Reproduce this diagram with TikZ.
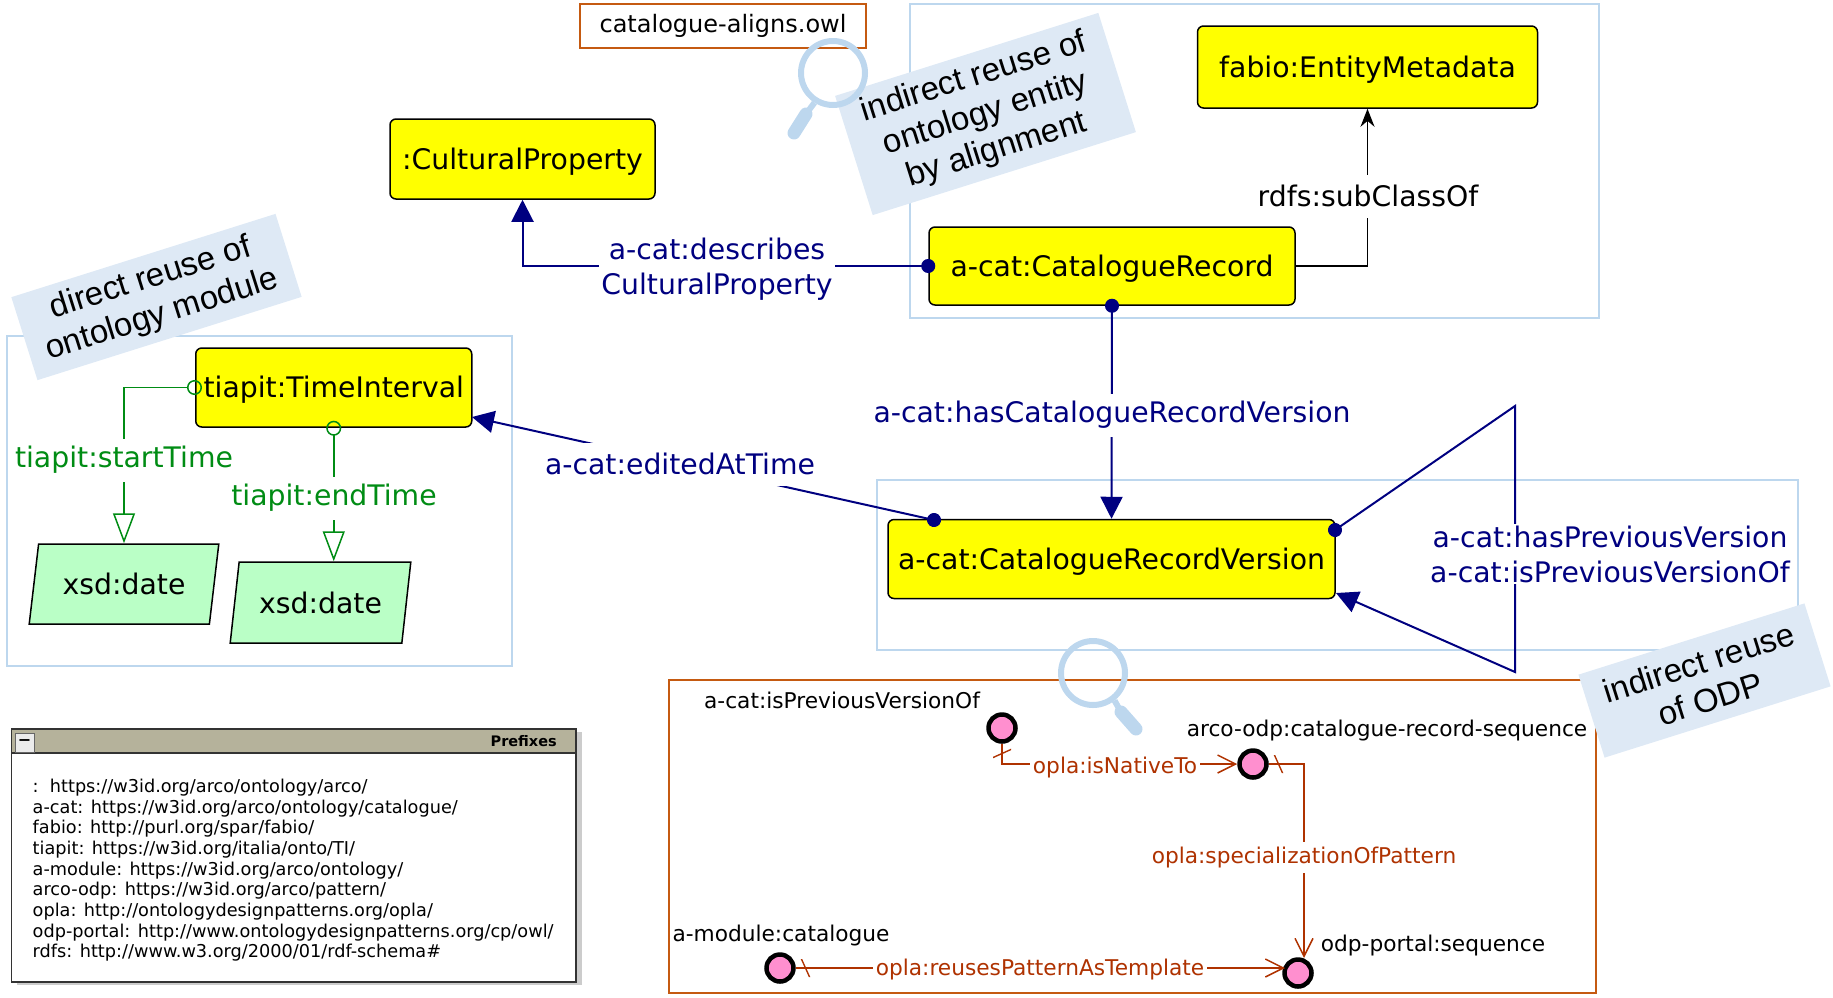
\documentclass[tikz,border=0pt]{standalone}
\usepackage{fontspec}
\setmainfont{DejaVu Sans}
\newfontfamily\notefont{Liberation Sans}
\usetikzlibrary{arrows.meta,shapes.geometric}
\definecolor{propblue}{RGB}{0,0,128}
\definecolor{dataprop}{RGB}{0,140,20}
\definecolor{oplared}{RGB}{175,50,0}
\definecolor{orangeline}{RGB}{197,90,17}
\definecolor{paleblue}{RGB}{189,215,238}
\definecolor{notefill}{RGB}{222,233,245}
\definecolor{pinkfill}{RGB}{255,143,207}
\definecolor{datafill}{RGB}{186,255,198}
\definecolor{headfill}{RGB}{181,178,155}
\definecolor{classfill}{RGB}{255,255,0}
\tikzstyle{classbox} = [rectangle, rounded corners=6pt, draw=black, line width=1.5pt, fill=classfill, text depth=1pt, font=\fontsize{28.3}{34}\selectfont]
\tikzstyle{databox} = [trapezium, trapezium left angle=76, trapezium right angle=104, trapezium stretches=true, draw=black, line width=1.5pt, fill=datafill, font=\fontsize{28.3}{34}\selectfont]
\tikzstyle{bluebox} = [rectangle, draw=paleblue, line width=2pt, inner sep=0pt]
\tikzstyle{orangebox} = [rectangle, draw=orangeline, line width=2pt, inner sep=0pt]
\tikzstyle{notebox} = [rectangle, rotate=17.5, fill=notefill, align=center, font=\notefont\fontsize{33}{38}\selectfont]
\tikzstyle{lens} = [circle, draw=paleblue, line width=6pt, minimum size=64pt, inner sep=0pt]
\tikzstyle{lensneck} = [paleblue, line width=6pt]
\tikzstyle{lenshandle} = [paleblue, line width=13pt, line cap=round]
\tikzstyle{instance} = [circle, draw=black, line width=4.5pt, fill=pinkfill, minimum size=27pt, inner sep=0pt]
\tikzstyle{instname} = [font=\fontsize{21.7}{26}\selectfont]
\tikzstyle{objprop} = [propblue, line width=2pt, {Circle[length=14pt]}-{Triangle[length=22pt,width=22pt]}, shorten <=-7pt]
\tikzstyle{dtprop} = [dataprop, line width=1.5pt, {Circle[open,length=15pt]}-{Triangle[open,length=30pt,width=22pt]}, shorten <=-7pt]
\tikzstyle{subclass} = [black, line width=1.5pt, -{Stealth[length=18pt,width=14pt]}]
\tikzstyle{oplaedge} = [oplared, line width=1.5pt, {Bar[width=18pt,slant=-.45]}-{Straight Barb[length=18pt,width=18pt]}, shorten <=9pt]
\tikzstyle{oplastub} = [oplared, line width=1.5pt]
\tikzstyle{bluelabel} = [fill=white, text=propblue, align=center, inner sep=2pt, minimum height=43pt, font=\fontsize{28.3}{35}\selectfont]
\tikzstyle{greenlabel} = [fill=white, text=dataprop, inner sep=3pt, minimum height=43pt, font=\fontsize{28.3}{34}\selectfont]
\tikzstyle{redlabel} = [fill=white, text=oplared, inner sep=3pt, minimum height=31pt, font=\fontsize{21.7}{26}\selectfont]
\begin{document}
\begin{tikzpicture}[x=1pt,y=-1pt]
		\useasboundingbox (0,0) rectangle (1833,997);

		% frames
		\node (alignframe) [bluebox, minimum width=689pt, minimum height=314pt] at (1254.5,161) {};
		\node (versionframe) [bluebox, minimum width=921pt, minimum height=170pt] at (1337.5,565) {};
		\node (moduleframe) [bluebox, minimum width=505pt, minimum height=330pt] at (259.5,501) {};
		\node (odpframe) [orangebox, minimum width=927pt, minimum height=313pt] at (1132,836.5) {};
		\node (alignfile) [orangebox, minimum width=286pt, minimum height=44pt, font=\fontsize{24}{28}\selectfont] at (723,26) {catalogue-aligns.owl};

		% classes
		\node (cultural) [classbox, minimum width=265pt, minimum height=80pt] at (522.5,159) {:CulturalProperty};
		\node (metadata) [classbox, minimum width=340pt, minimum height=82pt] at (1367.5,67) {fabio:EntityMetadata};
		\node (record) [classbox, minimum width=366pt, minimum height=78pt] at (1112,266) {a-cat:CatalogueRecord};
		\node (version) [classbox, minimum width=447pt, minimum height=79pt] at (1111.5,559) {a-cat:CatalogueRecordVersion};
		\node (interval) [classbox, minimum width=276pt, minimum height=79pt, inner sep=0pt] at (333.75,387.5) {tiapit:TimeInterval};
		\node (datea) [databox, minimum width=190pt, minimum height=80pt] at (124,584) {xsd:date};
		\node (dateb) [databox, minimum width=181pt, minimum height=81pt] at (320.5,602.5) {xsd:date};

		% free ends
		\coordinate (editstart) at (934,520);
		\coordinate (edittip) at (472,417);
		\coordinate (loopstart) at (1335,530);
		\coordinate (looptop) at (1515,406);
		\coordinate (loopbottom) at (1515,672);
		\coordinate (looptip) at (1336,593);
		\coordinate (seqtop) at (1304,958);
		\coordinate (seqleft) at (1285,968);

		% properties
		\draw [objprop] (record.west) -| (cultural.south);
		\draw [objprop] (record.south) -- (version.north);
		\draw [objprop] (editstart) -- (edittip);
		\draw [objprop] (loopstart) -- (looptop) -- (loopbottom) -- (looptip);
		\draw [subclass] (record.east) -| (metadata.south);
		\draw [dtprop] (interval.west) -| (datea.north);
		\draw [dtprop] (interval.south) -- (interval.south |- dateb.north);

		\node (describes) [bluelabel] at (717,269) {a-cat:describes\\CulturalProperty};
		\node (hasversion) [bluelabel] at (1112,415) {a-cat:hasCatalogueRecordVersion};
		\node (edited) [bluelabel] at (680,464) {a-cat:editedAtTime};
		\node (previous) [bluelabel] at (1610,554) {a-cat:hasPreviousVersion\\a-cat:isPreviousVersionOf};
		\node (subclasslabel) [fill=white, inner sep=3pt, minimum height=43pt, font=\fontsize{28.3}{34}\selectfont] at (1368,196) {rdfs:subClassOf};
		\node (starttime) [greenlabel] at (124,460) {tiapit:startTime};
		\node (endtime) [greenlabel] at (334,498) {tiapit:endTime};

		% pattern instances
		\node (nativeinst) [instance] at (1002,728) {};
		\node (seqinst) [instance] at (1253,764) {};
		\node (odpinst) [instance] at (1298,973) {};
		\node (moduleinst) [instance] at (780,968) {};
		\node (nativename) [instname] at (842,700) {a-cat:isPreviousVersionOf};
		\node (seqname) [instname] at (1387,730) {arco-odp:catalogue-record-sequence};
		\node (odpname) [instname] at (1433,945) {odp-portal:sequence};
		\node (modulename) [instname] at (781,935) {a-module:catalogue};

		\draw [oplastub] (nativeinst.south) -- ++(0,10);
		\draw [oplastub] (seqinst.east) -- ++(10,0);
		\draw [oplastub] (moduleinst.east) -- ++(10,0);
		\draw [oplaedge] (nativeinst.south) |- (seqinst.west);
		\draw [oplaedge] (seqinst.east) -| (seqtop);
		\draw [oplaedge] (moduleinst.east) -- (seqleft);

		\node (isnative) [redlabel] at (1115,767) {opla:isNativeTo};
		\node (specialization) [redlabel] at (1304,857) {opla:specializationOfPattern};
		\node (reuses) [redlabel] at (1040,969) {opla:reusesPatternAsTemplate};

		% notes
		\node (notemodule) [notebox, minimum width=277pt, minimum height=87pt] at (156.5,297) {direct reuse of\\ontology module};
		\node (notealign) [notebox, minimum width=276pt, minimum height=125pt] at (985.5,114) {indirect reuse of\\ontology entity\\by alignment};
		\node (noteodp) [notebox, minimum width=237pt, minimum height=87pt] at (1704.5,680.5) {indirect reuse\\of ODP};

		% magnifiers
		\node (lensa) [lens] at (833,73) {};
		\coordinate (lensamid) at (806,114);
		\coordinate (lensaend) at (794,133);
		\draw [lensneck] (lensa.-122) -- (lensamid);
		\draw [lenshandle] (lensamid) -- (lensaend);
		\node (lensb) [lens] at (1093,673) {};
		\coordinate (lensbmid) at (1121,712);
		\coordinate (lensbend) at (1136,729);
		\draw [lensneck] (lensb.-52) -- (lensbmid);
		\draw [lenshandle] (lensbmid) -- (lensbend);

		% prefixes panel
		\node (panelshadow) [rectangle, fill=black!20, minimum width=565pt, minimum height=253pt, inner sep=0pt] at (299,858.5) {};
		\node (panel) [rectangle, draw=black!80, line width=1.5pt, fill=white, minimum width=564.5pt, minimum height=253pt, inner sep=0pt] at (293.75,855.5) {};
		\node (panelhead) [rectangle, fill=headfill, draw=black!80, line width=1.5pt, minimum width=564.5pt, minimum height=23.5pt, inner sep=0pt] at (293.75,741) {};
		\node (panelbutton) [rectangle, fill=black!8, draw=black!60, line width=1pt, minimum width=19pt, minimum height=19pt, inner sep=0pt, font=\bfseries\fontsize{16}{16}\selectfont] at (24.5,742.5) {−};
		\node (paneltitle) [anchor=east, inner sep=0pt, font=\bfseries\fontsize{14.5}{16}\selectfont] at (557,741.5) {Prefixes};
		\node (prefixlist) [anchor=north west, inner sep=0pt, align=left, font=\fontsize{17.7}{20.65}\selectfont] at (32.5,779) {:\ \ https://w3id.org/arco/ontology/arco/\\a-cat: https://w3id.org/arco/ontology/catalogue/\\fabio: http://purl.org/spar/fabio/\\tiapit: https://w3id.org/italia/onto/TI/\\a-module: https://w3id.org/arco/ontology/\\arco-odp: https://w3id.org/arco/pattern/\\opla: http://ontologydesignpatterns.org/opla/\\odp-portal: http://www.ontologydesignpatterns.org/cp/owl/\\rdfs: http://www.w3.org/2000/01/rdf-schema\#};
\end{tikzpicture}
\end{document}
